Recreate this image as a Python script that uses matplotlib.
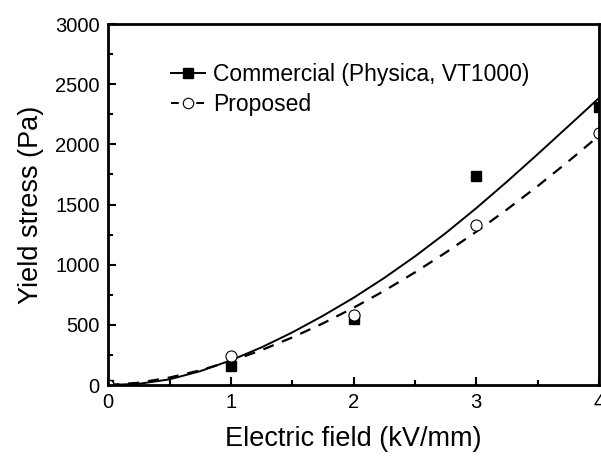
import numpy as np
import matplotlib.pyplot as plt
from matplotlib.ticker import MultipleLocator

plt.rcParams['font.family'] = ['Liberation Sans', 'DejaVu Sans']

# measured points
field = [0, 1, 2, 3, 4]
commercial = [0, 160, 546, 1737, 2313]
proposed = [0, 241, 585, 1330, 2097]

# fit curves
curve_x = [0, 0.25, 0.5, 0.75, 1, 1.25, 1.5, 1.75, 2, 2.25, 2.5, 2.75, 3, 3.25, 3.5, 3.75, 4]
fit_commercial = [0, 10, 47, 115, 205, 313, 437, 575, 725, 890, 1069, 1262, 1470, 1690, 1918, 2151, 2385]
fit_proposed = [0, 19, 62, 122, 199, 290, 395, 512, 642, 783, 936, 1100, 1274, 1459, 1653, 1858, 2072]

fig = plt.figure(figsize=(6.01, 4.59), dpi=100)
ax = fig.add_axes([0.18, 0.1612, 0.8167, 0.7865])

ax.plot(curve_x, fit_commercial, color='black', lw=1.4)
ax.plot(curve_x, fit_proposed, color='black', lw=1.6, dashes=(5, 4))
ax.plot(field, commercial, 's', color='black', ms=7.5)
ax.plot(field, proposed, 'o', mfc='white', mec='black', mew=0.8, ms=8)

# legend handles: line with marker in the middle
h1, = ax.plot([], [], '-s', color='black', ms=7, lw=1.4)
h2, = ax.plot([], [], '-o', color='black', mfc='white', mew=0.8, ms=7.5, lw=1.4, dashes=(4, 2.5))
ax.legend([h1, h2], ['Commercial (Physica, VT1000)', 'Proposed'], loc='upper left',
          bbox_to_anchor=(0.085, 0.95), frameon=False, fontsize=16.5, handlelength=1.5,
          handletextpad=0.35, labelspacing=0.3)

ax.set_xlim(0, 4)
ax.set_ylim(0, 3000)
ax.xaxis.set_major_locator(MultipleLocator(1))
ax.xaxis.set_minor_locator(MultipleLocator(0.5))
ax.yaxis.set_major_locator(MultipleLocator(500))
ax.yaxis.set_minor_locator(MultipleLocator(250))
ax.tick_params(which='both', direction='in', labelsize=14.5, width=1.5)
ax.tick_params(which='major', length=6, pad=6)
ax.tick_params(which='minor', length=3.5)
for s in ax.spines.values():
    s.set_linewidth(2)

ax.set_xlabel('Electric field (kV/mm)', fontsize=19.5, labelpad=10)
ax.set_ylabel('Yield stress (Pa)', fontsize=19.5, labelpad=8)

fig.savefig('out.png', dpi=100)
